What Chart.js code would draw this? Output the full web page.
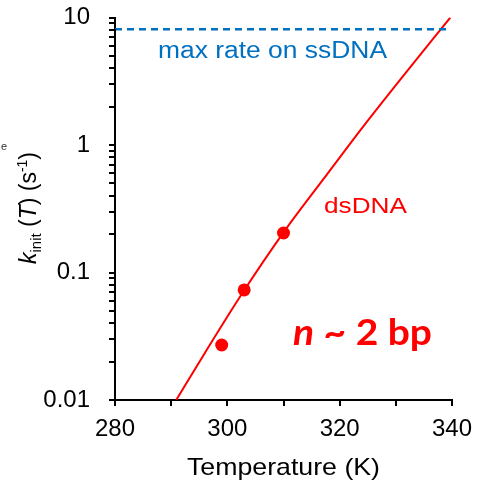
<!DOCTYPE html>
<html>
<head>
<meta charset="utf-8">
<script src="https://cdn.jsdelivr.net/npm/chart.js@4/dist/chart.umd.min.js"></script>
<style>
  html, body { margin: 0; padding: 0; background: #fff; }
  #wrap { width: 477px; height: 487px; }
</style>
</head>
<body>
<div id="wrap"><canvas id="c" width="477" height="487"></canvas></div>
<script>
// Measured initiation rates on dsDNA
const tempK = [299, 303, 310];
const kInit = [0.027, 0.073, 0.204];

// Model curve for dsDNA (n ~ 2 bp)
const fitTemp = [290.9, 296, 302.4, 310.2, 317, 323.7, 331, 339.7];
const fitK = [0.01, 0.0234, 0.066, 0.212, 0.532, 1.31, 3.35, 10];

// Maximum rate observed on ssDNA
const maxRateTemp = [280, 339];
const maxRate = [8.1, 8.1];

// Axis ticks
const xTickLabels = [280, 300, 320, 340];
const yTickLabels = [0.01, 0.1, 1, 10];
const yMinorSteps = [2, 3, 4, 5, 6, 7, 8, 9];

const FONT = '"Liberation Sans", Arial, sans-serif';

// Draw a run of styled text pieces, squeezed/stretched to a given width
function drawRun(ctx, parts, x, y, width, color) {
  let total = 0;
  for (const p of parts) { ctx.font = p.f; total += ctx.measureText(p.t).width; }
  const s = width / total;
  ctx.save();
  ctx.translate(x, y);
  ctx.scale(s, 1);
  ctx.fillStyle = color;
  ctx.textBaseline = 'alphabetic';
  ctx.textAlign = 'left';
  let cx = 0;
  for (const p of parts) {
    ctx.font = p.f;
    ctx.fillText(p.t, cx, p.dy || 0);
    cx += ctx.measureText(p.t).width;
  }
  ctx.restore();
}

const labelsPlugin = {
  id: 'labels',
  afterDraw(chart) {
    const ctx = chart.ctx;
    const area = chart.chartArea;
    const yS = chart.scales.y;

    // minor ticks on the log axis
    ctx.save();
    ctx.strokeStyle = '#000';
    ctx.lineWidth = 2;
    ctx.beginPath();
    for (let i = 0; i < yTickLabels.length - 1; i++) {
      for (const m of yMinorSteps) {
        const py = Math.round(yS.getPixelForValue(yTickLabels[i] * m));
        ctx.moveTo(area.left - 6, py);
        ctx.lineTo(area.left + 1, py);
      }
    }
    ctx.stroke();
    ctx.restore();

    const lineY = yS.getPixelForValue(maxRate[0]);
    drawRun(ctx, [{ t: 'max rate on ssDNA', f: '23px ' + FONT }],
      158, lineY + 29, 229, '#0070C0');

    drawRun(ctx, [{ t: 'dsDNA', f: '22px ' + FONT }],
      324, 213, 83, '#FF0000');

    drawRun(ctx, [
      { t: 'n', f: 'italic bold 37px Lato, sans-serif' },
      { t: ' ~ 2 bp', f: 'bold 37px Lato, sans-serif' }
    ], 293, 345, 139, '#FF0000');

    // x axis title
    const cxMid = (area.left + area.right) / 2;
    drawRun(ctx, [{ t: 'Temperature (K)', f: '24px ' + FONT }],
      cxMid - 96.5, 475, 193, '#000');

    // y axis title, rotated
    ctx.save();
    ctx.translate(36, 208);
    ctx.rotate(-Math.PI / 2);
    drawRun(ctx, [
      { t: 'k', f: 'italic 23px ' + FONT },
      { t: 'init', f: '15px ' + FONT, dy: 5 },
      { t: ' (', f: '23px ' + FONT },
      { t: 'T', f: 'italic 23px ' + FONT },
      { t: ') (s', f: '23px ' + FONT },
      { t: '-1', f: '14px ' + FONT, dy: -9 },
      { t: ')', f: '23px ' + FONT }
    ], -56, 0, 112, '#000');
    ctx.restore();

    // stray label fragment at the left edge
    ctx.save();
    ctx.font = '11px ' + FONT;
    ctx.fillStyle = '#333';
    ctx.fillText('e', 1, 150);
    ctx.restore();
  }
};

new Chart(document.getElementById('c'), {
  type: 'scatter',
  data: {
    datasets: [
      {
        label: 'max rate on ssDNA',
        data: maxRateTemp.map((t, i) => ({ x: t, y: maxRate[i] })),
        showLine: true,
        borderColor: '#0070C0',
        borderWidth: 2.5,
        borderDash: [7, 5],
        pointRadius: 0
      },
      {
        label: 'dsDNA fit',
        data: fitTemp.map((t, i) => ({ x: t, y: fitK[i] })),
        showLine: true,
        borderColor: '#FF0000',
        borderWidth: 2,
        cubicInterpolationMode: 'monotone',
        pointRadius: 0
      },
      {
        label: 'dsDNA',
        data: tempK.map((t, i) => ({ x: t, y: kInit[i] })),
        backgroundColor: '#FF0000',
        borderWidth: 0,
        pointRadius: 6.5
      }
    ]
  },
  options: {
    responsive: false,
    animation: false,
    devicePixelRatio: 1,
    layout: { padding: { left: 0, top: 17.5, right: 25, bottom: 0 } },
    plugins: { legend: { display: false }, tooltip: { enabled: false } },
    scales: {
      x: {
        type: 'linear',
        min: 280, max: 340,
        afterFit(s) { s.height = 87; s.paddingLeft = 0; s.paddingRight = 0; },
        border: { color: '#000', width: 2 },
        grid: { drawOnChartArea: false, drawTicks: true, tickLength: 6, color: '#000', lineWidth: 2 },
        ticks: {
          stepSize: 10,
          autoSkip: false,
          maxRotation: 0,
          padding: 9,
          color: '#000',
          font: { family: FONT, size: 24 },
          callback: v => xTickLabels.includes(v) ? String(v) : ''
        }
      },
      y: {
        type: 'logarithmic',
        min: 0.01, max: 10,
        afterFit(s) { s.width = 115; s.paddingTop = 0; s.paddingBottom = 0; },
        afterBuildTicks(s) { s.ticks = yTickLabels.map(v => ({ value: v })); },
        border: { color: '#000', width: 2 },
        grid: { drawOnChartArea: false, drawTicks: true, tickLength: 6, color: '#000', lineWidth: 2 },
        ticks: {
          autoSkip: false,
          padding: 19,
          color: '#000',
          font: { family: FONT, size: 24 },
          callback: v => yTickLabels.includes(v) ? String(v) : ''
        }
      }
    }
  },
  plugins: [labelsPlugin]
});
</script>
</body>
</html>
